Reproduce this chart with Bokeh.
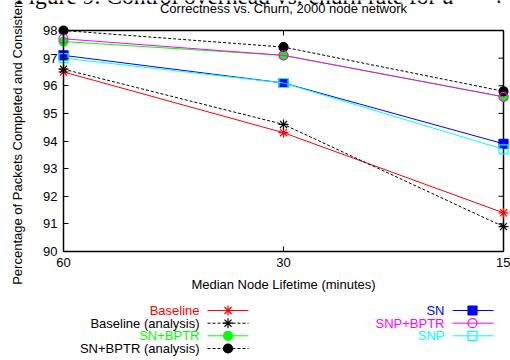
import math
from bokeh.plotting import figure
from bokeh.models import Range1d, FixedTicker, Label, PrintfTickFormatter
from bokeh.layouts import column
from bokeh.embed import file_html
from bokeh.resources import INLINE
from bokeh.core.properties import value

# ---------------- data ----------------
lifetimes = [60, 30, 15]
x_tick_labels = ["60", "30", "15"]
y_ticks = [90, 91, 92, 93, 94, 95, 96, 97, 98]

baseline = [96.5, 94.3, 91.4]
baseline_analysis = [96.6, 94.6, 90.9]
sn_bptr = [97.6, 97.1, 95.6]
sn_bptr_analysis = [98.0, 97.4, 95.8]
sn = [97.1, 96.1, 93.9]
snp_bptr = [97.7, 97.1, 95.6]
snp = [97.0, 96.1, 93.7]

series_names = ["Baseline", "Baseline (analysis)", "SN+BPTR", "SN+BPTR (analysis)",
                "SN", "SNP+BPTR", "SNP"]
series_values = [baseline, baseline_analysis, sn_bptr, sn_bptr_analysis, sn, snp_bptr, snp]

title_text = "Correctness vs. Churn, 2000 node network"
x_label = "Median Node Lifetime (minutes)"
y_label = "Percentage of Packets Completed and Consistent"
page_caption = "Figure 9. Control overhead vs. churn rate for"

# ---------------- styles ----------------
styles = [
    dict(color="#ff0000", dash="solid", marker="asterisk", size=10, fill=None),
    dict(color="#000000", dash="3 2", marker="asterisk", size=10, fill=None),
    dict(color="#00ff00", dash="solid", marker="circle", size=9, fill="#00ff00"),
    dict(color="#000000", dash="3 2", marker="circle", size=9, fill="#000000"),
    dict(color="#0000ff", dash="solid", marker="square", size=9, fill="#0000ff"),
    dict(color="#ff00ff", dash="solid", marker="circle", size=9, fill=None),
    dict(color="#00ffff", dash="solid", marker="square", size=9, fill=None),
]
FONT = "Liberation Sans"
FS = "13px"

# ---------------- layout (pixels) ----------------
W, H_MAIN, H_LEG = 510, 300, 60
BOX_L, BOX_R, BOX_T, BOX_B = 63, 503, 30, 251
FR_L, FR_R, FR_T, FR_B = 0, W, 0, H_MAIN   # frame = whole canvas (nothing clipped)

xmax, xmin = max(lifetimes), min(lifetimes)
ymin, ymax = min(y_ticks), max(y_ticks)
kx = (math.log10(xmax) - math.log10(xmin)) / (BOX_R - BOX_L)
x_start = 10 ** (math.log10(xmax) + (BOX_L - FR_L) * kx)
x_end = 10 ** (math.log10(xmin) - (FR_R - BOX_R) * kx)
ky = (ymax - ymin) / (BOX_B - BOX_T)
y_end = ymax + (BOX_T - FR_T) * ky
y_start = ymin - (FR_B - BOX_B) * ky

p = figure(width=W, height=H_MAIN, x_axis_type="log",
           x_range=Range1d(x_start, x_end), y_range=Range1d(y_start, y_end),
           output_backend="svg", toolbar_location=None, min_border=0)
p.outline_line_color = None
p.grid.visible = False
p.background_fill_color = "white"
p.border_fill_color = "white"

overrides_x = {float(v): s for v, s in zip(lifetimes, x_tick_labels)}


def style_axis(ax):
    ax.major_tick_in = 5
    ax.major_tick_out = 0
    ax.minor_tick_line_color = None
    ax.axis_line_width = 1.5
    ax.axis_line_color = "black"
    ax.major_tick_line_color = "black"
    ax.major_tick_line_width = 1
    ax.major_label_text_font = FONT
    ax.major_label_text_font_size = FS
    ax.major_label_text_color = "black"
    ax.axis_label_text_font = FONT
    ax.axis_label_text_font_size = FS
    ax.axis_label_text_font_style = "normal"
    ax.axis_label_text_color = "black"


xa = p.xaxis[0]
xa.fixed_location = ymin
xa.bounds = (xmin, xmax)
xa.ticker = FixedTicker(ticks=lifetimes)
xa.major_label_overrides = overrides_x
style_axis(xa)
xa.major_label_standoff = 6
xa.axis_label = x_label
xa.axis_label_standoff = 7

ya = p.yaxis[0]
ya.fixed_location = xmax
ya.bounds = (ymin, ymax)
ya.ticker = FixedTicker(ticks=y_ticks)
ya.formatter = PrintfTickFormatter(format="%d")
style_axis(ya)
ya.major_label_standoff = 6
ya.axis_label = y_label
ya.axis_label_standoff = 15

# top and right border with inward ticks
p.segment(x0=[xmax, xmin], y0=[ymax, ymin], x1=[xmin, xmin], y1=[ymax, ymax],
          line_color="black", line_width=1.5)
p.ray(x=lifetimes, y=[ymax] * len(lifetimes), length=5, length_units="screen",
      angle=-math.pi / 2, line_color="black", line_width=1)
p.ray(x=[xmin] * len(y_ticks), y=y_ticks, length=5, length_units="screen",
      angle=math.pi, line_color="black", line_width=1)

for vals, st in zip(series_values, styles):
    p.line(lifetimes, vals, line_color=st["color"], line_width=1, line_dash=st["dash"])
    p.scatter(lifetimes, vals, marker=st["marker"], size=st["size"],
              line_color=st["color"], line_width=1.2,
              fill_color=st["fill"], fill_alpha=1 if st["fill"] else 0)

# chart title
p.add_layout(Label(x=30, y=ymax, y_offset=22, text=title_text, text_align="center",
                   text_baseline="alphabetic", text_font=FONT, text_font_size=FS,
                   text_color="black"))
# cut-off page caption behind the chart
serif = "Liberation Serif"
for txt, dx, fstyle in [(page_caption, -48, "normal"), ("d", 379, "italic"),
                        ("=", 400, "normal"), ("4", 427, "normal")]:
    p.add_layout(Label(x=xmax, y=ymax, x_offset=dx, y_offset=35, text=txt,
                       text_align="left", text_baseline="alphabetic", text_font=serif,
                       text_font_style=fstyle, text_font_size="23.5px",
                       text_color="black"))

# ---------------- legend (separate figure, pixel coordinates) ----------------
leg = figure(width=W, height=H_LEG, x_range=Range1d(0, W), y_range=Range1d(H_LEG, 0),
             output_backend="svg", toolbar_location=None, min_border=0)
leg.axis.visible = False
leg.grid.visible = False
leg.outline_line_color = None

row_y = [10, 22.7, 35.3, 48]
cols = [dict(text_x=199, l0=207, l1=248, mx=227.5), dict(text_x=444, l0=452, l1=493, mx=472)]
slots = [(0, 0), (0, 1), (0, 2), (0, 3), (1, 0), (1, 1), (1, 2)]
for name, st, (c, r) in zip(series_names, styles, slots):
    col = cols[c]
    yy = row_y[r]
    tc = st["color"] if st["dash"] == "solid" else "#000000"
    leg.text(x=[col["text_x"]], y=[yy], text=[name], text_align="right",
             text_baseline="middle", text_font=value(FONT), text_font_size=FS,
             text_color=tc)
    leg.segment(x0=[col["l0"]], y0=[yy], x1=[col["l1"]], y1=[yy],
                line_color=st["color"], line_width=1, line_dash=st["dash"])
    leg.scatter(x=[col["mx"]], y=[yy], marker=st["marker"], size=st["size"],
                line_color=st["color"], line_width=1.2,
                fill_color=st["fill"], fill_alpha=1 if st["fill"] else 0)

layout = column(p, leg, spacing=0)
open("out.html", "w").write(file_html(layout, INLINE))
